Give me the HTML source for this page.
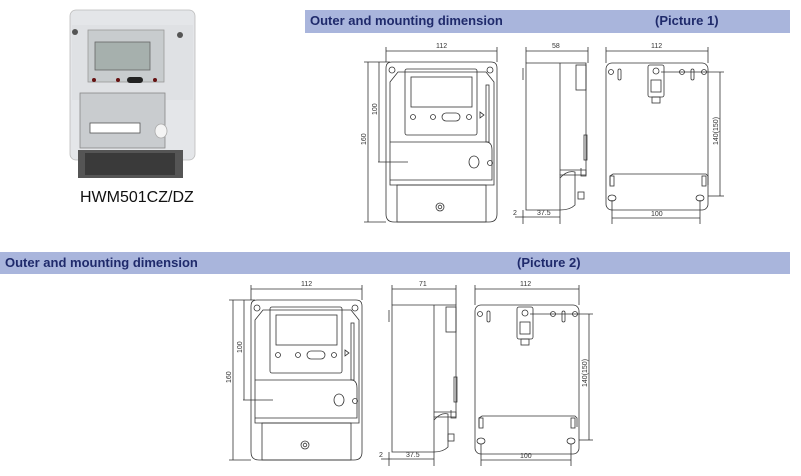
<!DOCTYPE html>
<html><head><meta charset="utf-8"><style>
body{margin:0;background:#fff;width:801px;height:476px;overflow:hidden;font-family:"Liberation Sans",sans-serif}
.bar{position:absolute;background:#a9b5dc;color:#1f2a6b;font-weight:bold;font-size:13px;line-height:22px}
svg{position:absolute;left:0;top:0}
</style></head><body>
<div class="bar" style="left:305px;top:10px;width:485px;height:23px"><span style="position:absolute;left:5px">Outer and mounting dimension</span><span style="position:absolute;left:350px">(Picture 1)</span></div>
<div class="bar" style="left:0;top:252px;width:790px;height:22px"><span style="position:absolute;left:5px">Outer and mounting dimension</span><span style="position:absolute;left:517px">(Picture 2)</span></div>
<div style="position:absolute;left:80px;top:189px;font-size:16px;color:#111">HWM501CZ/DZ</div>
<svg width="801" height="476" viewBox="0 0 801 476" font-family="Liberation Sans" font-size="7" fill="none" stroke="#333" stroke-width="0.8">
<!-- photo -->
<g>
<rect x="70" y="10" width="125" height="150" rx="6" fill="#e4e6e9" stroke="#bbb"/>
<rect x="72" y="25" width="121" height="75" fill="#dfe1e4" stroke="none"/>
<rect x="88" y="30" width="76" height="52" fill="#c8ccce" stroke="#999"/>
<rect x="95" y="42" width="55" height="28" fill="#a6b0ad" stroke="#666"/>
<circle cx="94" cy="80" r="2" fill="#611" stroke="none"/><circle cx="118" cy="80" r="2" fill="#611" stroke="none"/>
<rect x="127" y="77" width="16" height="6" rx="3" fill="#222" stroke="none"/><circle cx="155" cy="80" r="2" fill="#611" stroke="none"/>
<circle cx="75" cy="32" r="3" fill="#555" stroke="none"/><circle cx="180" cy="35" r="3" fill="#555" stroke="none"/>
<rect x="80" y="93" width="85" height="55" fill="#c9cccf" stroke="#888"/>
<rect x="90" y="123" width="50" height="10" fill="#fff" stroke="#555"/>
<ellipse cx="161" cy="131" rx="6" ry="7" fill="#f4f4f4" stroke="#aaa"/>
<rect x="78" y="150" width="105" height="28" fill="#555" stroke="none"/>
<rect x="85" y="153" width="90" height="22" fill="#3a3a3a" stroke="none"/>
</g>
<!-- PICTURE 1 -->
<g id="f1">
<line x1="386" y1="51" x2="497" y2="51"/><line x1="386" y1="47" x2="386" y2="62"/><line x1="497" y1="47" x2="497" y2="62"/>
<text x="436" y="48" fill="#333" stroke="none">112</text>
<line x1="368" y1="62" x2="368" y2="222"/><line x1="364" y1="62" x2="390" y2="62"/><line x1="364" y1="222" x2="386" y2="222"/>
<line x1="379" y1="62" x2="379" y2="162"/><line x1="378" y1="162" x2="408" y2="162"/>
<text x="0" y="0" fill="#333" stroke="none" transform="translate(366,145) rotate(-90)">160</text>
<text x="0" y="0" fill="#333" stroke="none" transform="translate(377,115) rotate(-90)">100</text>
<path d="M392,62 H491 Q497,62 497,68 V214 Q497,222 489,222 H394 Q386,222 386,214 V68 Q386,62 392,62 Z"/>
<path d="M390,82 L398,72 H486 L494,82 V185 H390 Z"/>
<circle cx="392" cy="70" r="3"/><circle cx="490" cy="70" r="3"/>
<rect x="405" y="69" width="72" height="66" rx="2"/>
<rect x="411" y="77" width="61" height="30"/>
<circle cx="413" cy="117" r="2.5"/><circle cx="433" cy="117" r="2.5"/><circle cx="469" cy="117" r="2.5"/>
<rect x="442" y="113" width="18" height="8" rx="4"/>
<path d="M480,112 L484,115 L480,118 Z"/>
<rect x="486" y="85" width="3" height="57"/>
<path d="M390,142 H486 Q492,142 492,150 V180 H390"/>
<ellipse cx="474" cy="162" rx="5" ry="6"/><circle cx="490" cy="163" r="2.5"/>
<rect x="397" y="185" width="89" height="37"/>
<circle cx="440" cy="207" r="4"/><circle cx="440" cy="207" r="1.8"/>
</g>
<g id="s1">
<line x1="526" y1="51" x2="588" y2="51"/><line x1="526" y1="47" x2="526" y2="63"/><line x1="588" y1="47" x2="588" y2="63"/>
<text x="552" y="48" fill="#333" stroke="none">58</text>
<path d="M526,63 H586 V175 H560 V210 H526 Z"/>
<line x1="560" y1="63" x2="560" y2="175"/>
<rect x="576" y="65" width="10" height="25"/>
<path d="M560,170 H586 V176 H581 V168 M560,178 Q567,170 575,172 V205 Q570,210 560,210"/>
<rect x="578" y="192" width="6" height="7"/>
<rect x="584" y="135" width="3" height="25"/>
<line x1="523" y1="68" x2="523" y2="80"/>
<line x1="523" y1="210" x2="523" y2="224"/><line x1="560" y1="210" x2="560" y2="224"/>
<line x1="515" y1="217" x2="526" y2="217"/><line x1="526" y1="217" x2="560" y2="217"/>
<text x="513" y="215" fill="#333" stroke="none">2</text><text x="537" y="215" fill="#333" stroke="none">37.5</text>
</g>
<g id="b1">
<line x1="606" y1="51" x2="708" y2="51"/><line x1="606" y1="47" x2="606" y2="63"/><line x1="708" y1="47" x2="708" y2="63"/>
<text x="651" y="48" fill="#333" stroke="none">112</text>
<rect x="606" y="63" width="102" height="147" rx="6"/>
<circle cx="611" cy="72" r="2.5"/><rect x="618" y="69" width="3" height="11" rx="1.5"/>
<circle cx="682" cy="72" r="2.5"/><circle cx="704" cy="72" r="2.5"/><rect x="691" y="69" width="3" height="11" rx="1.5"/>
<rect x="648" y="65" width="16" height="32" rx="2"/><circle cx="656" cy="71" r="3"/>
<rect x="651" y="80" width="10" height="12"/><rect x="652" y="97" width="8" height="6"/>
<line x1="661" y1="72" x2="724" y2="72"/><line x1="720" y1="72" x2="720" y2="196"/><line x1="708" y1="196" x2="724" y2="196"/>
<text x="0" y="0" fill="#333" stroke="none" transform="translate(718,145) rotate(-90)">140(150)</text>
<path d="M610,185 V176 L613,174 H706 L708,176 V185"/>
<rect x="610" y="176" width="4" height="10"/><rect x="702" y="176" width="4" height="10"/>
<ellipse cx="612" cy="198" rx="4" ry="3"/><ellipse cx="700" cy="198" rx="4" ry="3"/>
<line x1="612" y1="200" x2="612" y2="224"/><line x1="700" y1="200" x2="700" y2="224"/>
<line x1="612" y1="218" x2="700" y2="218"/><text x="651" y="216" fill="#333" stroke="none">100</text>
</g>
<!-- PICTURE 2 -->
<g transform="translate(-135,238)">
<line x1="386" y1="51" x2="497" y2="51"/><line x1="386" y1="47" x2="386" y2="62"/><line x1="497" y1="47" x2="497" y2="62"/>
<text x="436" y="48" fill="#333" stroke="none">112</text>
<line x1="368" y1="62" x2="368" y2="222"/><line x1="364" y1="62" x2="390" y2="62"/><line x1="364" y1="222" x2="386" y2="222"/>
<line x1="379" y1="62" x2="379" y2="162"/><line x1="378" y1="162" x2="408" y2="162"/>
<text x="0" y="0" fill="#333" stroke="none" transform="translate(366,145) rotate(-90)">160</text>
<text x="0" y="0" fill="#333" stroke="none" transform="translate(377,115) rotate(-90)">100</text>
<path d="M392,62 H491 Q497,62 497,68 V214 Q497,222 489,222 H394 Q386,222 386,214 V68 Q386,62 392,62 Z"/>
<path d="M390,82 L398,72 H486 L494,82 V185 H390 Z"/>
<circle cx="392" cy="70" r="3"/><circle cx="490" cy="70" r="3"/>
<rect x="405" y="69" width="72" height="66" rx="2"/>
<rect x="411" y="77" width="61" height="30"/>
<circle cx="413" cy="117" r="2.5"/><circle cx="433" cy="117" r="2.5"/><circle cx="469" cy="117" r="2.5"/>
<rect x="442" y="113" width="18" height="8" rx="4"/>
<path d="M480,112 L484,115 L480,118 Z"/>
<rect x="486" y="85" width="3" height="57"/>
<path d="M390,142 H486 Q492,142 492,150 V180 H390"/>
<ellipse cx="474" cy="162" rx="5" ry="6"/><circle cx="490" cy="163" r="2.5"/>
<rect x="397" y="185" width="89" height="37"/>
<circle cx="440" cy="207" r="4"/><circle cx="440" cy="207" r="1.8"/>
</g>
<g transform="translate(-134,242)">
<line x1="526" y1="47" x2="590" y2="47"/><line x1="526" y1="43" x2="526" y2="63"/><line x1="590" y1="43" x2="590" y2="63"/>
<text x="553" y="44" fill="#333" stroke="none">71</text>
<path d="M526,63 H590 V175 H568 V210 H526 Z"/>
<line x1="568" y1="63" x2="568" y2="175"/>
<rect x="580" y="65" width="10" height="25"/>
<path d="M568,170 H590 V176 H585 V168 M568,178 Q575,170 582,172 V205 Q577,210 568,210"/>
<rect x="582" y="192" width="6" height="7"/>
<rect x="588" y="135" width="3" height="25"/>
<line x1="523" y1="68" x2="523" y2="80"/>
<line x1="523" y1="210" x2="523" y2="224"/><line x1="568" y1="210" x2="568" y2="224"/>
<line x1="515" y1="217" x2="526" y2="217"/><line x1="526" y1="217" x2="568" y2="217"/>
<text x="513" y="215" fill="#333" stroke="none">2</text><text x="540" y="215" fill="#333" stroke="none">37.5</text>
</g>
<g transform="translate(-131,242)">
<line x1="606" y1="47" x2="710" y2="47"/><line x1="606" y1="43" x2="606" y2="63"/><line x1="710" y1="43" x2="710" y2="63"/>
<text x="651" y="44" fill="#333" stroke="none">112</text>
<rect x="606" y="63" width="104" height="149" rx="6"/>
<circle cx="611" cy="72" r="2.5"/><rect x="618" y="69" width="3" height="11" rx="1.5"/>
<circle cx="684" cy="72" r="2.5"/><circle cx="706" cy="72" r="2.5"/><rect x="693" y="69" width="3" height="11" rx="1.5"/>
<rect x="648" y="65" width="16" height="32" rx="2"/><circle cx="656" cy="71" r="3"/>
<rect x="651" y="80" width="10" height="12"/><rect x="652" y="97" width="8" height="6"/>
<line x1="661" y1="72" x2="724" y2="72"/><line x1="720" y1="72" x2="720" y2="198"/><line x1="710" y1="198" x2="724" y2="198"/>
<text x="0" y="0" fill="#333" stroke="none" transform="translate(718,145) rotate(-90)">140(150)</text>
<path d="M610,185 V176 L613,174 H706 L708,176 V185"/>
<rect x="610" y="176" width="4" height="10"/><rect x="702" y="176" width="4" height="10"/>
<ellipse cx="612" cy="199" rx="4" ry="3"/><ellipse cx="702" cy="199" rx="4" ry="3"/>
<line x1="612" y1="202" x2="612" y2="224"/><line x1="702" y1="202" x2="702" y2="224"/>
<line x1="612" y1="218" x2="702" y2="218"/><text x="651" y="216" fill="#333" stroke="none">100</text>
</g>
</svg>
</body></html>
